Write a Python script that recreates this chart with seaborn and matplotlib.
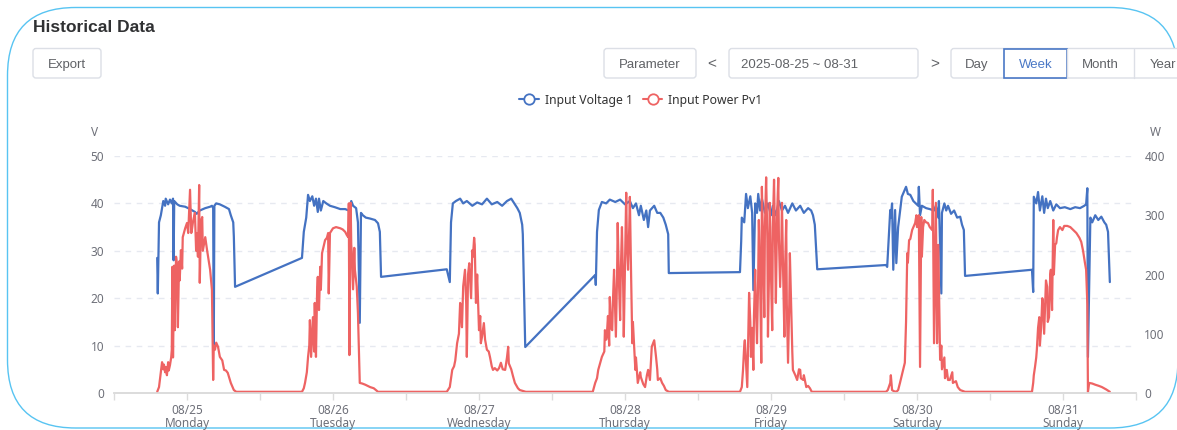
import numpy as np
import pandas as pd
import seaborn as sns
import matplotlib
matplotlib.use("Agg")
import matplotlib.pyplot as plt
from matplotlib.patches import FancyBboxPatch
from matplotlib.lines import Line2D

# ---- data (x = hours counted from 08/25 00:00) ----
volt_hours = [
    -4.9, -4.8, -4.6, -4.3, -3.9, -3.6, -3.5, -3.1, -2.8, -2.5, -2.3, -2.2, -2.1, -1.6, -1.2, -0.3,
    0.5, 1.3, 1.6, 2.1, 3.0, 3.8, 4.1, 4.3, 4.4, 4.5, 4.8, 5.4, 6.2, 6.9, 7.2, 7.6, 7.7, 7.9,
    18.9, 19.2, 19.6, 19.9, 20.2, 20.6, 20.9, 21.2, 21.5, 21.7, 22.0, 22.4, 22.9, 23.5, 24.3,
    25.2, 26.0, 26.6, 27.0, 27.3, 27.8, 28.1, 28.4, 28.6, 28.9, 29.4, 30.1, 30.9, 31.4, 31.7, 31.9,
    42.7, 43.2, 43.4, 43.7, 44.2, 44.9, 45.4, 46.0, 46.9, 47.7, 48.5, 49.3, 50.1, 51.0, 51.8,
    52.6, 53.3, 53.8, 54.3, 54.7, 55.1, 55.2, 55.6,
    67.1, 67.2, 67.4, 67.7, 68.2, 68.9, 69.5, 70.4, 71.2, 72.0, 72.8, 73.3, 73.8, 74.3, 74.6,
    75.1, 75.5, 75.8, 76.1, 76.8, 77.3, 77.8, 78.3, 78.7, 79.1, 79.2,
    90.9, 91.1, 91.2, 91.6, 91.9, 92.2, 92.6, 92.9, 93.1, 93.4, 93.7, 93.9, 94.2, 94.5, 95.0,
    95.5, 96.0, 96.3, 96.8, 97.3, 97.8, 98.3, 98.8, 99.5, 100.1, 100.8, 101.4, 102.1, 102.6,
    102.9, 103.2, 103.6,
    114.9, 115.1, 115.4, 115.6, 115.7, 115.9, 116.1, 116.4, 116.6, 116.9, 117.5, 118.2, 118.5,
    118.9, 119.4, 119.8, 120.2, 120.3, 120.5, 120.8, 121.5, 122.1, 122.8, 123.1, 123.5, 123.6,
    124.0, 124.1, 124.5, 124.8, 125.1, 125.6, 126.1, 126.6, 127.1, 127.4, 127.7, 127.9,
    138.9, 139.1, 139.2, 139.6, 139.9, 140.2, 140.6, 140.9, 141.2, 141.5, 141.9, 142.4, 142.9,
    143.5, 144.3, 145.2, 146.0, 146.8, 147.5, 147.8, 148.0, 148.1, 148.5, 148.8, 149.3, 149.8,
    150.3, 150.8, 151.1, 151.4, 151.7,
]
volt_values = [
    28.5, 21.0, 36.0, 37.5, 40.5, 39.5, 41.0, 39.8, 40.8, 40.0, 41.0, 28.0, 40.5, 39.8, 39.5, 39.3,
    38.8, 38.2, 37.8, 38.5, 39.0, 39.3, 39.5, 39.0, 9.7, 39.5, 40.0, 39.8, 39.3, 38.8, 37.5, 36.0, 33.0, 22.4,
    28.5, 34.0, 37.0, 41.8, 40.5, 41.5, 39.5, 41.0, 38.2, 41.0, 38.5, 40.5, 40.0, 39.5, 39.2,
    38.8, 38.8, 38.5, 40.5, 39.5, 39.0, 36.0, 14.8, 38.0, 37.5, 37.0, 36.8, 36.5, 35.8, 34.0, 24.5,
    26.1, 23.4, 36.0, 40.0, 40.5, 41.0, 40.0, 40.5, 39.5, 40.2, 39.8, 41.0, 39.8, 40.3, 39.5,
    40.5, 41.0, 40.0, 39.0, 38.0, 35.5, 33.5, 9.7,
    24.9, 22.8, 34.0, 38.6, 40.3, 40.0, 40.8, 40.3, 40.8, 39.8, 40.5, 39.0, 40.0, 37.5, 39.5,
    36.5, 38.5, 35.0, 38.5, 39.5, 38.0, 38.0, 37.0, 35.5, 33.5, 25.3,
    25.5, 32.0, 37.0, 36.0, 42.0, 39.0, 41.5, 38.0, 21.7, 40.0, 38.0, 42.0, 38.5, 41.0, 38.0,
    40.0, 37.5, 39.5, 37.5, 40.5, 38.5, 39.5, 38.0, 40.0, 38.5, 39.5, 38.0, 39.0, 38.5,
    37.5, 35.5, 26.1,
    27.0, 26.6, 34.0, 38.6, 37.0, 40.0, 26.0, 38.6, 27.4, 35.0, 41.4, 43.5, 42.0,
    41.8, 40.5, 40.0, 39.5, 43.5, 37.5, 39.5, 39.0, 38.8, 38.5, 39.5, 37.0, 40.5,
    21.0, 38.0, 40.0, 38.5, 39.5, 37.8, 38.5, 37.0, 37.2, 35.5, 34.4, 24.7,
    26.0, 21.3, 41.4, 40.0, 42.4, 38.5, 41.5, 38.0, 41.0, 39.0, 40.5, 38.5, 39.8,
    39.0, 39.2, 38.8, 39.2, 39.0, 39.5, 39.8, 43.2, 7.6, 37.0, 36.0, 37.5, 36.5,
    37.2, 36.0, 35.5, 34.0, 23.4,
]

power_hours = [
    -4.9, -4.6, -4.4, -4.1, -3.9, -3.8, -3.6, -3.5, -3.3, -3.1, -3.0, -2.8, -2.6, -2.5, -2.4, -2.3,
    -2.1, -2.0, -1.8, -1.6, -1.5, -1.3, -1.2, -1.0, -0.8, -0.7, -0.3, 0.0, 0.2, 0.5, 0.7, 0.8, 1.0,
    1.3, 1.5, 1.6, 1.8, 2.0, 2.1, 2.3, 2.5, 2.6, 3.0, 3.3, 3.8, 4.1, 4.3, 4.4, 4.6, 4.8, 5.1, 5.4,
    5.8, 6.1, 6.4, 6.7, 7.2, 7.7, 8.1,
    18.9, 19.2, 19.4, 19.7, 19.9, 20.1, 20.2, 20.4, 20.7, 20.9, 21.0, 21.2, 21.4, 21.5, 21.7, 21.9,
    22.0, 22.2, 22.7, 23.0, 23.2, 23.3, 23.5, 24.0, 24.5, 25.2, 25.6, 26.0, 26.3, 26.5, 26.6, 26.7,
    26.9, 27.0, 27.1, 27.3, 27.5, 27.6, 27.9, 28.1, 28.4, 28.8, 29.3, 30.1, 30.7, 31.4,
    42.7, 43.2, 43.6, 43.9, 44.1, 44.4, 44.7, 44.9, 45.0, 45.2, 45.4, 45.7, 45.9, 46.0, 46.2, 46.4,
    46.7, 46.9, 47.0, 47.2, 47.3, 47.5, 47.7, 48.0, 48.2, 48.3, 48.5, 48.8, 49.0, 49.3, 49.6, 49.8,
    50.1, 50.3, 50.6, 51.0, 51.3, 51.6, 51.9, 52.3, 52.6, 52.8, 52.9, 53.3, 53.6, 53.9, 54.4, 54.7,
    55.7,
    66.7, 67.1, 67.4, 67.6, 67.9, 68.2, 68.6, 68.7, 68.9, 69.0, 69.2, 69.4, 69.5, 69.7, 69.9, 70.0,
    70.2, 70.4, 70.5, 70.7, 70.8, 71.0, 71.2, 71.3, 71.5, 71.7, 71.8, 72.0, 72.2, 72.3, 72.5, 72.7,
    72.8, 73.0, 73.2, 73.3, 73.7, 73.8, 74.1, 74.5, 74.6, 75.0, 75.3, 75.6, 75.8, 76.1, 76.3, 76.4,
    76.8, 76.9, 77.1, 77.3, 77.4, 77.8, 78.1, 78.4, 78.7, 79.2,
    90.9, 91.2, 91.4, 91.6, 91.7, 91.9, 92.1, 92.2, 92.4, 92.6, 92.7, 92.9, 93.1, 93.2, 93.4, 93.5,
    93.7, 93.9, 94.0, 94.2, 94.4, 94.5, 94.7, 94.9, 95.0, 95.2, 95.4, 95.5, 95.7, 95.8, 96.0, 96.2,
    96.3, 96.5, 96.7, 96.8, 97.0, 97.2, 97.3, 97.5, 97.7, 97.8, 98.0, 98.2, 98.3, 98.5, 98.6, 98.8,
    99.0, 99.1, 99.3, 99.5, 99.6, 100.0, 100.3, 100.6, 100.8, 100.9, 101.3, 101.4, 101.8, 102.1,
    102.4, 102.7,
    114.9, 115.2, 115.6, 115.7, 115.9, 116.2, 116.6, 116.9, 117.2, 117.5, 117.7, 118.0, 118.2,
    118.4, 118.5, 118.7, 118.9, 119.2, 119.5, 119.7, 119.9, 120.0, 120.2, 120.3, 120.5, 120.7,
    120.8, 121.0, 121.2, 121.5, 121.8, 122.1, 122.5, 122.6, 122.8, 123.1, 123.3, 123.5, 123.8,
    124.0, 124.1, 124.5, 124.6, 124.9, 125.1, 125.4, 125.8, 125.9, 126.4, 126.7, 127.1, 127.9,
    138.9, 139.1, 139.2, 139.4, 139.6, 139.7, 139.9, 140.1, 140.2, 140.4, 140.6, 140.7, 140.9,
    141.1, 141.2, 141.4, 141.5, 141.7, 141.9, 142.0, 142.2, 142.4, 142.5, 142.7, 142.9, 143.0,
    143.2, 143.5, 143.9, 144.2, 144.7, 145.2, 145.7, 146.2, 146.7, 147.0, 147.3, 147.6, 147.8,
    148.0, 148.1, 148.3, 148.8, 149.3, 149.9, 150.4, 151.1, 151.7,
]
power_values = [
    2, 10, 27, 52, 40, 48, 35, 44, 30, 52, 38, 47, 60, 73, 213, 60,
    215, 106, 230, 213, 111, 222, 190, 241, 210, 263, 278, 287, 270, 343, 270, 275, 290,
    304, 240, 270, 230, 351, 186, 290, 297, 240, 263, 241, 208, 174, 22, 80, 73, 85, 78, 61,
    55, 39, 38, 34, 17, 5, 2,
    2, 8, 17, 35, 61, 80, 123, 61, 128, 70, 152, 61, 180, 196, 140, 213,
    174, 236, 258, 262, 270, 168, 270, 278, 280, 278, 276, 272, 266, 263, 320, 64,
    321, 250, 236, 175, 245, 208, 180, 135, 17, 16, 14, 10, 8, 2,
    2, 10, 39, 45, 55, 84, 100, 152, 140, 111, 180, 208, 150, 61, 200, 219,
    160, 241, 230, 262, 250, 152, 200, 106, 130, 84, 95, 118, 90, 73, 70, 61,
    45, 39, 42, 38, 42, 51, 40, 39, 60, 78, 50, 40, 28, 17, 8, 5,
    2,
    2, 17, 25, 39, 50, 61, 70, 106, 90, 95, 130, 80, 162, 110, 106, 150,
    208, 130, 95, 200, 287, 190, 123, 200, 280, 180, 95, 220, 338, 260, 208, 280,
    331, 200, 84, 120, 39, 60, 17, 35, 27, 15, 10, 30, 39, 22, 60, 78,
    89, 80, 61, 40, 22, 25, 17, 12, 5, 2,
    2, 10, 39, 80, 89, 50, 10, 60, 169, 120, 61, 110, 39, 130, 208, 150,
    84, 200, 292, 200, 51, 348, 250, 128, 280, 364, 260, 95, 220, 321, 200, 106,
    280, 360, 230, 152, 300, 363, 260, 179, 250, 321, 200, 95, 200, 292, 150, 51,
    150, 236, 150, 70, 39, 30, 22, 40, 39, 25, 22, 30, 10, 12,
    8, 2,
    2, 5, 17, 30, 5, 3, 2, 5, 17, 30, 39, 51, 120,
    236, 220, 258, 260, 275, 282, 287, 300, 280, 292, 300, 44, 297,
    230, 280, 292, 288, 287, 280, 275, 343, 84, 321, 84, 250, 56,
    80, 40, 60, 25, 39, 22, 22, 35, 17, 20, 10, 5, 2,
    2, 17, 30, 44, 60, 73, 110, 128, 80, 110, 160, 152, 100,
    160, 190, 179, 120, 128, 200, 208, 140, 292, 200, 250, 253, 262,
    275, 280, 275, 282, 282, 280, 275, 270, 262, 255, 240, 220, 208,
    150, 2, 17, 16, 14, 12, 10, 6, 2,
]

day_labels = ["08/25", "08/26", "08/27", "08/28", "08/29", "08/30", "08/31"]
weekday_labels = ["Monday", "Tuesday", "Wednesday", "Thursday", "Friday", "Saturday", "Sunday"]
day_hours = [0, 24, 48, 72, 96, 120, 144]
half_day_hours = [-12, 12, 36, 60, 84, 108, 132, 156]
volt_ticks = [0, 10, 20, 30, 40, 50]
power_ticks = [0, 100, 200, 300, 400]
series_names = ["Input Voltage 1", "Input Power Pv1"]

volt_df = pd.DataFrame({"hour": volt_hours, "value": volt_values})
power_df = pd.DataFrame({"hour": power_hours, "value": power_values})

BLUE = "#4472c2"
RED = "#ee6363"
GREY_TXT = "#6e7079"
BTN_TXT = "#606266"
BTN_EDGE = "#dcdfe6"

sns.set_theme(style="white")
plt.rcParams["font.family"] = ["Noto Sans", "DejaVu Sans"]

fig = plt.figure(figsize=(11.77, 4.30), dpi=100)
fig.patch.set_facecolor("white")

# page / toolbar layer in pixel coordinates
bg = fig.add_axes([0, 0, 1, 1])
bg.set_xlim(0, 1177)
bg.set_ylim(430, 0)
bg.axis("off")

bg.add_patch(FancyBboxPatch((7.5, 7.5), 1170.5, 420.5,
                            boxstyle="round,pad=0,rounding_size=68",
                            fc="none", ec="#58c4f2", lw=1.0))

bg.text(33, 27, "Historical Data", fontsize=12.5, fontweight="bold",
        color="#303133", va="center", ha="left", family="Liberation Sans")


def button(x, w, label, tx=None, color=BTN_TXT, edge=BTN_EDGE, ha="center", lw=1.0):
    bg.add_patch(FancyBboxPatch((x, 48.5), w, 29.5, boxstyle="round,pad=0,rounding_size=3",
                                fc="white", ec=edge, lw=lw))
    bg.text(tx if tx is not None else x + w / 2, 68, label, fontsize=9.5, color=color,
            ha=ha, va="baseline", family="Liberation Sans")


button(33, 68, "Export")
button(604, 92, "Parameter")
bg.text(712, 68, "<", fontsize=11, color=BTN_TXT, ha="center", va="baseline", family="Liberation Sans")
button(729, 189, "2025-08-25 ~ 08-31", tx=741, ha="left")
bg.text(935, 68, ">", fontsize=11, color=BTN_TXT, ha="center", va="baseline", family="Liberation Sans")

# Day / Week / Month / Year group
bg.add_patch(FancyBboxPatch((951, 48.5), 240, 29.5, boxstyle="round,pad=0,rounding_size=3",
                            fc="white", ec=BTN_EDGE, lw=1.0))
bg.plot([1067, 1067], [48.5, 78], color=BTN_EDGE, lw=1.0)
bg.plot([1134, 1134], [48.5, 78], color=BTN_EDGE, lw=1.0)
bg.add_patch(plt.Rectangle((1004, 48.5), 63, 29.5, fc="white", ec="#4a78c6", lw=1.2))
for label, cx, col in [("Day", 977, BTN_TXT), ("Week", 1035.5, "#4a78c6"),
                       ("Month", 1100.5, BTN_TXT), ("Year", 1163, BTN_TXT)]:
    bg.text(cx, 68, label, fontsize=9.5, color=col, ha="center", va="baseline",
            family="Liberation Sans")

bg.text(95, 133, "V", fontsize=8.5, color=GREY_TXT, ha="center", va="center")
bg.text(1155, 133, "W", fontsize=8.5, color=GREY_TXT, ha="center", va="center")

# chart
ax = fig.add_axes([114 / 1177, 1 - 393 / 430, (1136 - 114) / 1177, (393 - 156) / 430])
ax.patch.set_alpha(0)
ax2 = ax.twinx()

sns.lineplot(data=volt_df, x="hour", y="value", ax=ax, color=BLUE, lw=1.6,
             estimator=None, sort=False, legend=False)
sns.lineplot(data=power_df, x="hour", y="value", ax=ax2, color=RED, lw=1.6,
             estimator=None, sort=False, legend=False)

ax.set_xlim(-12, 156)
ax.set_ylim(0, 50)
ax2.set_ylim(0, 400)
ax.set_xlabel("")
ax.set_ylabel("")
ax2.set_ylabel("")

ax.set_yticks(volt_ticks)
ax2.set_yticks(power_ticks)
ax.set_xticks(day_hours)
ax.set_xticklabels([f"{d}\n{w}" for d, w in zip(day_labels, weekday_labels)],
                   linespacing=0.95)
ax.set_xticks(half_day_hours, minor=True)

ax.yaxis.grid(True, color="#e6e9f0", linestyle=(0, (4, 4)), lw=1)
ax.xaxis.grid(False)
ax2.grid(False)

for a in (ax, ax2):
    for s in ("top", "left", "right"):
        a.spines[s].set_visible(False)
    a.spines["bottom"].set_color("#dcdcdc")
    a.spines["bottom"].set_linewidth(1.2)

ax.tick_params(axis="x", which="both", direction="out", length=5, width=1,
               color="#dcdcdc", labelsize=8.5, labelcolor=GREY_TXT, pad=3, bottom=True)
ax.tick_params(axis="y", length=0, labelsize=8.5, labelcolor=GREY_TXT, pad=7)
ax2.tick_params(axis="y", length=0, labelsize=8.5, labelcolor=GREY_TXT, pad=6)

handles = [Line2D([], [], color=c, lw=1.5, marker="o", markersize=7.5,
                  markerfacecolor="white", markeredgewidth=1.3)
           for c in (BLUE, RED)]
fig.legend(handles, series_names, loc="center", bbox_to_anchor=(0.5446, 0.767),
           ncol=2, frameon=False, fontsize=8.8, handlelength=1.6, handletextpad=0.5,
           columnspacing=0.8, labelcolor="#333333")

fig.savefig("out.png", dpi=100, facecolor="white")
